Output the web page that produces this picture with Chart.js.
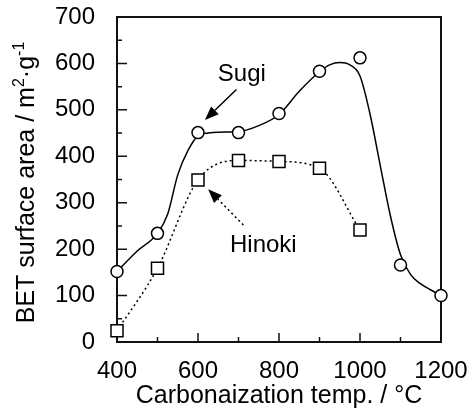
<!DOCTYPE html>
<html>
<head>
<meta charset="utf-8">
<script src="https://cdn.jsdelivr.net/npm/chart.js@4.4.0/dist/chart.umd.min.js"></script>
<style>
    html, body { margin: 0; padding: 0; background: #ffffff; }
    #wrap { width: 470px; height: 411px; }
</style>
</head>
<body>
<div id="wrap"><canvas id="betChart" width="470" height="411"></canvas></div>
<script>
// measured points
const sugiTemps = [400, 500, 600, 700, 800, 900, 1000, 1100, 1200];
const sugiArea = [152, 234, 451, 451, 492, 583, 612, 166, 100];
const hinokiTemps = [400, 500, 600, 700, 800, 900, 1000];
const hinokiArea = [24, 159, 349, 391, 389, 374, 241];

// hand drawn fit through Sugi
const sugiFitTemps = [400, 450, 500, 525, 550, 575, 600, 625, 650, 700, 750, 800, 850, 900, 925, 950, 975, 1000, 1025, 1050, 1075, 1100, 1125, 1150, 1175, 1200];
const sugiFitArea = [152, 196, 234, 275, 360, 412, 444, 450, 452, 453, 466, 490, 540, 582, 597, 602, 597, 573, 490, 380, 272, 188, 145, 125, 112, 100];

const xMinorTicks = [500, 700, 900, 1100];
const yMinorTicks = [50, 150, 250, 350, 450, 550, 650];

// y title pieces: [text, superscript?]
const yTitleParts = [["BET surface area / m", false], ["2", true], ["·g", false], ["-1", true]];

// annotations: label position and arrow [from x, from y, to x, to y] in data units
const sugiLabel = {text: "Sugi", x: 649, y: 562};
const sugiArrow = [695, 544, 617, 478];
const hinokiLabel = {text: "Hinoki", x: 679, y: 194};
const hinokiArrow = [712, 252, 625, 329];

const fontFamily = "'Liberation Sans', Arial, sans-serif";
const fontSize = 24;
const titleSize = 25;
const supSize = 16;

function toPoints(xs, ys) {
    return xs.map((x, i) => ({x: x, y: ys[i]}));
}

function drawArrow(ctx, x1, y1, x2, y2, dashed) {
    const ang = Math.atan2(y2 - y1, x2 - x1);
    const headLen = 14;
    const headHalf = 5.5;
    const bx = x2 - headLen * Math.cos(ang);
    const by = y2 - headLen * Math.sin(ang);
    ctx.save();
    ctx.strokeStyle = '#000';
    ctx.lineWidth = 1.5;
    if (dashed) ctx.setLineDash([2, 3]);
    ctx.beginPath();
    ctx.moveTo(x1, y1);
    ctx.lineTo(bx, by);
    ctx.stroke();
    ctx.setLineDash([]);
    ctx.fillStyle = '#000';
    ctx.beginPath();
    ctx.moveTo(x2, y2);
    ctx.lineTo(bx + headHalf * Math.sin(ang), by - headHalf * Math.cos(ang));
    ctx.lineTo(bx - headHalf * Math.sin(ang), by + headHalf * Math.cos(ang));
    ctx.closePath();
    ctx.fill();
    ctx.restore();
}

function drawYTitle(ctx, chartArea) {
    const mainFont = titleSize + "px " + fontFamily;
    const smallFont = supSize + "px " + fontFamily;
    let total = 0;
    yTitleParts.forEach(p => {
        ctx.font = p[1] ? smallFont : mainFont;
        total += ctx.measureText(p[0]).width;
    });
    const cy = (chartArea.top + chartArea.bottom) / 2 + 3;
    ctx.save();
    ctx.translate(34, cy);
    ctx.rotate(-Math.PI / 2);
    ctx.fillStyle = '#000';
    ctx.textBaseline = 'alphabetic';
    let pos = -total / 2;
    yTitleParts.forEach(p => {
        ctx.font = p[1] ? smallFont : mainFont;
        ctx.fillText(p[0], pos, p[1] ? -10 : 0);
        pos += ctx.measureText(p[0]).width;
    });
    ctx.restore();
}

const frame = {
    id: 'frame',
    beforeDatasetsDraw(chart) {
        const {ctx, chartArea, scales} = chart;
        const x = scales.x, y = scales.y;
        ctx.save();
        ctx.strokeStyle = '#111';
        ctx.lineWidth = 1.5;
        // inward ticks
        ctx.beginPath();
        y.ticks.forEach(t => {
            const py = y.getPixelForValue(t.value);
            ctx.moveTo(chartArea.left, py);
            ctx.lineTo(chartArea.left + 10, py);
        });
        yMinorTicks.forEach(v => {
            const py = y.getPixelForValue(v);
            ctx.moveTo(chartArea.left, py);
            ctx.lineTo(chartArea.left + 5, py);
        });
        x.ticks.forEach(t => {
            const px = x.getPixelForValue(t.value);
            ctx.moveTo(px, chartArea.bottom);
            ctx.lineTo(px, chartArea.bottom - 9);
        });
        xMinorTicks.forEach(v => {
            const px = x.getPixelForValue(v);
            ctx.moveTo(px, chartArea.bottom);
            ctx.lineTo(px, chartArea.bottom - 5);
        });
        ctx.stroke();
        ctx.lineWidth = 2;
        ctx.strokeRect(chartArea.left, chartArea.top, chartArea.right - chartArea.left, chartArea.bottom - chartArea.top);
        ctx.restore();
        drawYTitle(ctx, chartArea);
    },
    afterDatasetsDraw(chart) {
        const {ctx, scales} = chart;
        const x = scales.x, y = scales.y;
        ctx.save();
        ctx.fillStyle = '#000';
        ctx.font = fontSize + "px " + fontFamily;
        ctx.textBaseline = 'alphabetic';
        ctx.fillText(sugiLabel.text, x.getPixelForValue(sugiLabel.x), y.getPixelForValue(sugiLabel.y));
        ctx.fillText(hinokiLabel.text, x.getPixelForValue(hinokiLabel.x), y.getPixelForValue(hinokiLabel.y));
        ctx.restore();
        drawArrow(ctx, x.getPixelForValue(sugiArrow[0]), y.getPixelForValue(sugiArrow[1]),
            x.getPixelForValue(sugiArrow[2]), y.getPixelForValue(sugiArrow[3]), false);
        drawArrow(ctx, x.getPixelForValue(hinokiArrow[0]), y.getPixelForValue(hinokiArrow[1]),
            x.getPixelForValue(hinokiArrow[2]), y.getPixelForValue(hinokiArrow[3]), true);
    }
};

Chart.defaults.font.family = fontFamily;
Chart.defaults.color = '#000';

const ctx = document.getElementById('betChart').getContext('2d');
const chartBet = new Chart(ctx, {
    type: 'line',
    data: {
        datasets: [{
            label: 'Sugi',
            data: toPoints(sugiTemps, sugiArea),
            showLine: false,
            pointStyle: 'circle',
            pointRadius: 6,
            pointBorderWidth: 1.5,
            pointBorderColor: '#000',
            pointBackgroundColor: '#fff',
            clip: false,
            order: 0
        },
        {
            label: 'Hinoki',
            data: toPoints(hinokiTemps, hinokiArea),
            borderColor: '#000',
            borderWidth: 1.5,
            borderDash: [2, 3],
            cubicInterpolationMode: 'monotone',
            pointStyle: 'rect',
            pointRadius: 8.5,
            pointBorderWidth: 1.5,
            pointBorderColor: '#000',
            pointBackgroundColor: '#fff',
            clip: false,
            order: 1
        },
        {
            label: 'Sugi fit',
            data: toPoints(sugiFitTemps, sugiFitArea),
            borderColor: '#000',
            borderWidth: 1.5,
            cubicInterpolationMode: 'monotone',
            pointRadius: 0,
            clip: false,
            order: 2
        }]
    },
    options: {
        responsive: false,
        animation: false,
        events: [],
        layout: {
            padding: {left: 0, right: 29, top: 17, bottom: 0}
        },
        plugins: {
            legend: {display: false},
            tooltip: {enabled: false}
        },
        scales: {
            x: {
                type: 'linear',
                min: 400,
                max: 1200,
                grid: {display: false, drawTicks: false},
                border: {display: false},
                ticks: {
                    stepSize: 200,
                    padding: 15,
                    font: {size: fontSize},
                    color: '#000',
                    callback: v => String(v)
                },
                title: {
                    display: true,
                    text: 'Carbonaization temp. / °C',
                    font: {size: titleSize},
                    color: '#000',
                    padding: {top: 0, bottom: 0}
                },
                afterFit: function (scale) {
                    scale.height = 69;
                    scale.paddingLeft = 0;
                    scale.paddingRight = 0;
                }
            },
            y: {
                type: 'linear',
                min: 0,
                max: 700,
                grid: {display: false, drawTicks: false},
                border: {display: false},
                ticks: {
                    stepSize: 100,
                    padding: 22,
                    font: {size: fontSize},
                    color: '#000',
                    callback: v => String(v)
                },
                afterFit: function (scale) {
                    scale.width = 117;
                    scale.paddingTop = 0;
                    scale.paddingBottom = 0;
                }
            }
        }
    },
    plugins: [frame]
});
</script>
</body>
</html>
